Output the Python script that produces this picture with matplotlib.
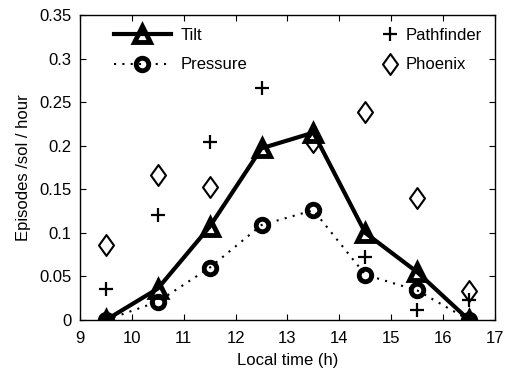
import matplotlib; matplotlib.use('Agg')
import matplotlib.pyplot as plt
from matplotlib.path import Path

plt.rcParams['font.family'] = ['Liberation Sans', 'DejaVu Sans']

hours = [9.5, 10.5, 11.5, 12.5, 13.5, 14.5, 15.5, 16.5]
tilt = [0, 0.036, 0.107, 0.197, 0.215, 0.1, 0.055, 0]
pressure = [0, 0.021, 0.06, 0.109, 0.126, 0.052, 0.034, 0]
pf_hours = [9.5, 10.5, 11.5, 12.5, 14.5, 15.5, 16.5]
pathfinder = [0.036, 0.12, 0.204, 0.266, 0.072, 0.012, 0.023]
px_hours = [9.5, 10.5, 11.5, 13.5, 14.5, 15.5, 16.5]
phoenix = [0.086, 0.166, 0.153, 0.204, 0.239, 0.14, 0.033]

# matlab-ish diamond, a bit taller than wide
diam = Path([(0, 1), (0.72, 0), (0, -1), (-0.72, 0), (0, 1)],
            [Path.MOVETO, Path.LINETO, Path.LINETO, Path.LINETO, Path.CLOSEPOLY])

fig = plt.figure(figsize=(5.09, 3.73), dpi=100)
ax = fig.add_axes([0.157, 0.142, 0.8155, 0.818])

l1, = ax.plot(hours, tilt, '-^', color='k', lw=3, ms=11, mfc='none', mew=3.5, label='Tilt')
l2, = ax.plot(hours, pressure, color='k', ls=(0, (1, 3)), lw=1.5, marker='o', ms=9,
              mfc='none', mew=3.5, label='Pressure')
l3, = ax.plot(pf_hours, pathfinder, '+', color='k', ms=10, mew=1.6, label='Pathfinder')
l4, = ax.plot(px_hours, phoenix, marker=diam, ls='none', color='k', ms=15, mfc='none',
              mew=1.5, label='Phoenix')

ax.set_xlim(9, 17)
ax.set_ylim(0, 0.35)
ax.set_xticks(range(9, 18))
ax.set_yticks([0, 0.05, 0.1, 0.15, 0.2, 0.25, 0.3, 0.35])
ax.set_yticklabels(['0', '0.05', '0.1', '0.15', '0.2', '0.25', '0.3', '0.35'])
ax.tick_params(direction='in', top=True, right=True, labelsize=12, length=4)
ax.tick_params(axis='x', pad=8)
ax.tick_params(axis='y', pad=6)
for s in ax.spines.values():
    s.set_linewidth(1.0)
ax.set_xlabel('Local time (h)', fontsize=12, labelpad=5)
ax.set_ylabel('Episodes /sol / hour', fontsize=12, labelpad=6)

leg1 = ax.legend(handles=[l1, l2], loc='upper left', frameon=False, fontsize=12,
                 handlelength=3.4, borderaxespad=0.4, bbox_to_anchor=(0.05, 1.0),
                 labelspacing=0.85, handletextpad=0.6)
ax.add_artist(leg1)
ax.legend(handles=[l3, l4], loc='upper right', frameon=False, fontsize=12,
          handlelength=1.0, borderaxespad=0.4, labelspacing=0.85, handletextpad=0.4)

plt.savefig('out.png', dpi=100, facecolor='white')
